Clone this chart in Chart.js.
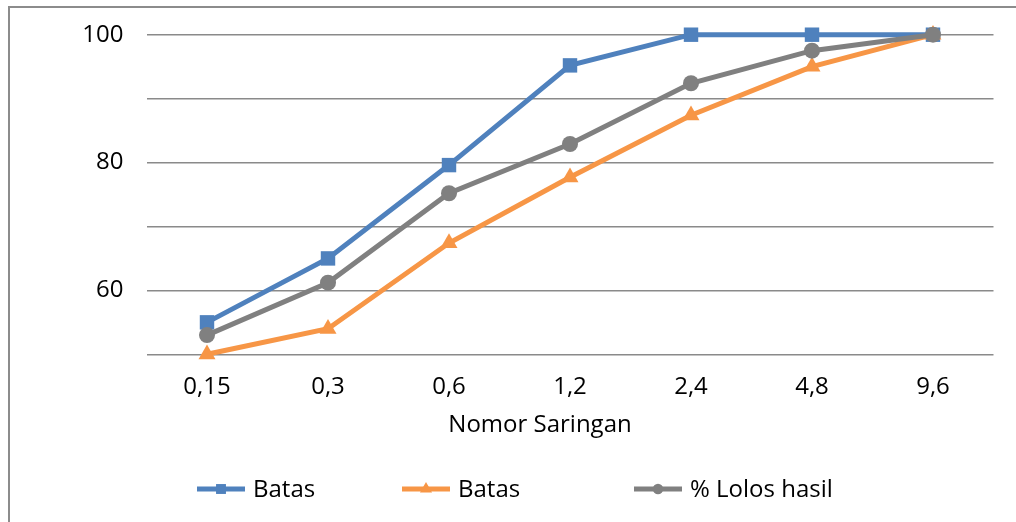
<!DOCTYPE html>
<html>
<head>
<meta charset="utf-8">
<script src="https://cdn.jsdelivr.net/npm/chart.js@4/dist/chart.umd.min.js"></script>
<style>
  html, body { margin: 0; padding: 0; background: #ffffff; }
  #wrap { position: relative; width: 1016px; height: 522px; overflow: hidden; }
  #frame {
    position: absolute; left: 8px; top: 6px; width: 1100px; height: 600px;
    border-left: 2px solid #8c8c8c; border-top: 2px solid #8c8c8c;
    pointer-events: none;
  }
  canvas { position: absolute; left: 0; top: 0; }
</style>
</head>
<body>
<div id="wrap">
  <div id="frame"></div>
  <canvas id="chart" width="1016" height="522"></canvas>
</div>
<script>
// Sieve sizes (mm) on the category axis
const sieveSizes = ['0,15', '0,3', '0,6', '1,2', '2,4', '4,8', '9,6'];

// Percentage passing: upper limit, lower limit and the tested sample
const upperLimit = [55, 65, 79.6, 95.2, 100, 100, 100];
const lowerLimit = [50, 54, 67.4, 77.7, 87.4, 95, 100];
const passingResult = [53, 61.2, 75.2, 82.9, 92.4, 97.5, 100];

// Value-axis range and which ticks carry a label
const yMin = 50;
const yMax = 100;
const yStep = 10;
const yLabelEvery = 20;

const seriesNames = ['Batas', 'Batas', '% Lolos hasil'];
const seriesColors = ['#4f81bd', '#f79646', '#808080'];
const axisTitle = 'Nomor Saringan';

const FONT = '"Open Sans", Lato, sans-serif';
const FONT_SIZE = 24;

// Axis title plus a line-with-marker legend laid out in one row below it
const legendRow = {
  id: 'legendRow',
  afterDraw(chart) {
    const ctx = chart.ctx;
    ctx.save();
    ctx.fillStyle = '#000000';
    ctx.font = FONT_SIZE + 'px ' + FONT;
    ctx.textBaseline = 'middle';
    ctx.textAlign = 'center';
    ctx.fillText(axisTitle, 540, 425);
    ctx.restore();

    const starts = [197, 402, 634];
    const y = 489;
    const lineLen = 48;
    chart.data.datasets.forEach((ds, i) => {
      const x0 = starts[i];
      const cx = x0 + lineLen / 2;
      ctx.save();
      ctx.strokeStyle = ds.borderColor;
      ctx.lineWidth = 5;
      ctx.beginPath();
      ctx.moveTo(x0, y);
      ctx.lineTo(x0 + lineLen, y);
      ctx.stroke();
      ctx.fillStyle = ds.backgroundColor;
      ctx.beginPath();
      const r = 7;
      if (ds.pointStyle === 'rect') {
        const s = r * Math.SQRT1_2;
        ctx.rect(cx - s, y - s, 2 * s, 2 * s);
      } else if (ds.pointStyle === 'triangle') {
        ctx.moveTo(cx, y - r);
        ctx.lineTo(cx + r * 0.866, y + r * 0.5);
        ctx.lineTo(cx - r * 0.866, y + r * 0.5);
        ctx.closePath();
      } else {
        ctx.arc(cx, y, r * 0.75, 0, Math.PI * 2);
      }
      ctx.fill();
      ctx.fillStyle = '#000000';
      ctx.font = FONT_SIZE + 'px ' + FONT;
      ctx.textBaseline = 'middle';
      ctx.textAlign = 'left';
      ctx.fillText(ds.label, x0 + lineLen + 8, y + 1);
      ctx.restore();
    });
  }
};

function makeSeries(i, values, style, radius, order) {
  return {
    label: seriesNames[i],
    data: values,
    borderColor: seriesColors[i],
    backgroundColor: seriesColors[i],
    borderWidth: 5,
    pointStyle: style,
    pointRadius: radius,
    pointHoverRadius: radius,
    pointBorderWidth: 0,
    pointBackgroundColor: seriesColors[i],
    tension: 0,
    clip: false,
    order: order
  };
}

new Chart(document.getElementById('chart'), {
  type: 'line',
  data: {
    labels: sieveSizes,
    datasets: [
      makeSeries(0, upperLimit, 'rect', 10.2, 2),
      makeSeries(1, lowerLimit, 'triangle', 9.8, 1),
      makeSeries(2, passingResult, 'circle', 8, 0)
    ]
  },
  options: {
    responsive: false,
    animation: false,
    devicePixelRatio: 1,
    layout: { padding: { left: 0, right: 22.5, top: 34.7, bottom: 72 } },
    plugins: {
      legend: { display: false },
      tooltip: { enabled: false }
    },
    scales: {
      x: {
        type: 'category',
        offset: true,
        grid: { display: false, drawTicks: false },
        border: { display: false },
        ticks: {
          color: '#000000',
          font: { family: FONT, size: FONT_SIZE },
          padding: 18,
          maxRotation: 0,
          autoSkip: false
        },
        afterFit(scale) { scale.height = 95.7; scale.paddingLeft = 0; scale.paddingRight = 0; }
      },
      y: {
        min: yMin,
        max: yMax,
        grid: { color: '#8a8a8a', lineWidth: 1.5, drawTicks: false },
        border: { display: false },
        ticks: {
          stepSize: yStep,
          color: '#000000',
          font: { family: FONT, size: FONT_SIZE },
          padding: 23,
          callback: (v) => (v % yLabelEvery === 0 && v !== yMin ? String(v) : '')
        },
        afterFit(scale) { scale.width = 146.5; scale.paddingTop = 0; scale.paddingBottom = 0; }
      }
    }
  },
  plugins: [legendRow]
});
</script>
</body>
</html>
